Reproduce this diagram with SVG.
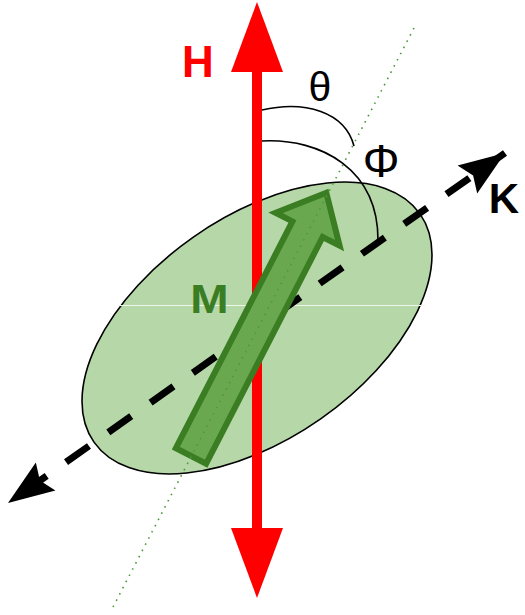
<svg xmlns="http://www.w3.org/2000/svg" width="525" height="615" viewBox="0 0 525 615">
<style>
.lbl{font-family:"Liberation Sans",Arial,sans-serif}
.arc{fill:none;stroke:#000;stroke-width:1.6}
</style>
<defs>
<marker id="kh" viewBox="-50 -20 52 40" markerWidth="52" markerHeight="40" refX="0" refY="0" markerUnits="userSpaceOnUse" orient="auto-start-reverse" overflow="visible">
<path d="M0,0 L-46,-17 L-39,0 L-46,17 Z" fill="#000"/>
</marker>
</defs>
<rect width="525" height="615" fill="#fff"/>
<g id="ellipse">
<ellipse cx="257" cy="328" rx="199" ry="111" transform="rotate(-35 257 328)" fill="#b6d7a8" stroke="#000" stroke-width="1.6"/>
<line x1="118" y1="305.5" x2="425" y2="305.5" stroke="#eef6ea" stroke-width="1"/>
</g>
<g id="connectors">
<line id="K-axis" x1="8" y1="503" x2="505" y2="153" stroke="#000" stroke-width="7" stroke-dasharray="28 23.7" stroke-dashoffset="32.4" marker-start="url(#kh)" marker-end="url(#kh)"/>
</g>
<g id="H-arrow">
<rect x="252" y="70" width="10" height="460" fill="#ff0000"/>
<polygon points="257,2 283,72 231,72" fill="#ff0000"/>
<polygon points="257,598 283,528 231,528" fill="#ff0000"/>
</g>
<g id="M-arrow">
<path transform="translate(191,456) rotate(-62.8)" d="M0,-17 L255,-17 L255,-36 L296,0 L255,36 L255,17 L0,17 Z" fill="#6aa84f" stroke="#3a7d22" stroke-width="6" stroke-linejoin="miter"/>
</g>
<g id="M-direction">
<line x1="113" y1="607" x2="414" y2="28" stroke="#4f9a3c" stroke-width="1.6" stroke-dasharray="1.6 5.4"/>
</g>
<g id="angles">
<path class="arc" d="M262,110 C305,100 345,112 354,146"/>
<path class="arc" d="M262,141 C322,138 378,170 378,240"/>
</g>
<g id="labels" class="lbl">
<text x="182" y="77" font-size="44" font-weight="bold" fill="#ff0000">H</text>
<text x="320" y="101" font-size="41" text-anchor="middle" fill="#000">θ</text>
<text x="381" y="177" font-size="46" text-anchor="middle" fill="#000">Φ</text>
<text x="504" y="213" font-size="42" font-weight="bold" text-anchor="middle" fill="#000">K</text>
<text transform="translate(209.5,313) scale(1.15,1)" font-size="40" font-weight="bold" text-anchor="middle" fill="#3a7d22">M</text>
</g>
</svg>
